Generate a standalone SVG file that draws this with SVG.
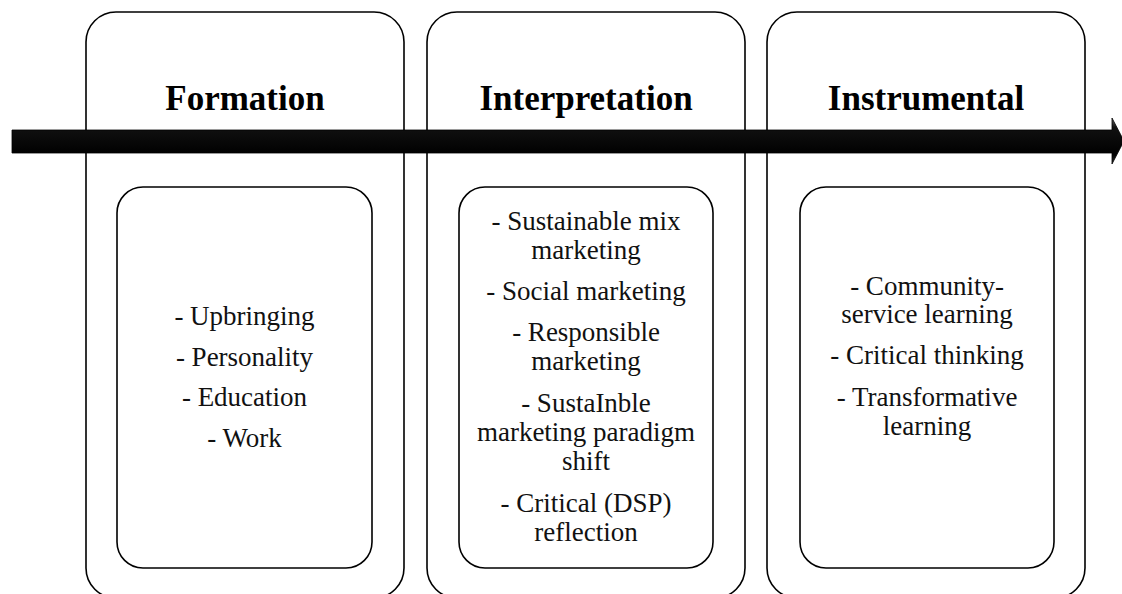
<svg xmlns="http://www.w3.org/2000/svg" width="1122" height="594" viewBox="0 0 1122 594">
<defs>
<linearGradient id="barGrad" x1="0" y1="0" x2="0" y2="1">
<stop offset="0" stop-color="#666"/>
<stop offset="0.2" stop-color="#111"/>
<stop offset="0.8" stop-color="#000"/>
<stop offset="1" stop-color="#333"/>
</linearGradient>
<style>
.outer{fill:#fff;stroke:#000;stroke-width:1.6}
.inner{fill:#fff;stroke:#000;stroke-width:1.6}
.title{font-weight:bold;font-size:35px;fill:#000;text-anchor:middle}
.item{font-size:27px;fill:#111;text-anchor:middle}
</style>
</defs>
<rect width="1122" height="594" fill="#fff"/>
<g id="formation">
<rect class="outer" x="86" y="12" width="318" height="586" rx="30" ry="30"/>
<text class="title" font-family="Liberation Serif, DejaVu Serif, serif" x="245" y="110">Formation</text>
</g>
<g id="interpretation">
<rect class="outer" x="427" y="12" width="318" height="586" rx="30" ry="30"/>
<text class="title" font-family="Liberation Serif, DejaVu Serif, serif" x="586" y="110">Interpretation</text>
</g>
<g id="instrumental">
<rect class="outer" x="767" y="12" width="318" height="586" rx="30" ry="30"/>
<text class="title" font-family="Liberation Serif, DejaVu Serif, serif" x="926" y="110">Instrumental</text>
</g>
<g id="connectors">
<path d="M12,130 L1112,130 L1112,118 L1124,141 L1112,164 L1112,153 L12,153 Z" fill="url(#barGrad)" stroke="#000" stroke-width="0.8"/>
</g>
<g id="formation-items" font-family="Liberation Serif, DejaVu Serif, serif">
<rect class="inner" x="117" y="187" width="255" height="381" rx="26" ry="26"/>
<text class="item" x="244.5" y="325">- Upbringing</text>
<text class="item" x="244.5" y="366">- Personality</text>
<text class="item" x="244.5" y="406">- Education</text>
<text class="item" x="244.5" y="447">- Work</text>
</g>
<g id="interpretation-items" font-family="Liberation Serif, DejaVu Serif, serif">
<rect class="inner" x="459" y="187" width="254" height="381" rx="26" ry="26"/>
<text class="item" x="586" y="230">- Sustainable mix</text>
<text class="item" x="586" y="259">marketing</text>
<text class="item" x="586" y="300">- Social marketing</text>
<text class="item" x="586" y="341">- Responsible</text>
<text class="item" x="586" y="370">marketing</text>
<text class="item" x="586" y="412">- SustaInble</text>
<text class="item" x="586" y="441">marketing paradigm</text>
<text class="item" x="586" y="470">shift</text>
<text class="item" x="586" y="512">- Critical (DSP)</text>
<text class="item" x="586" y="541">reflection</text>
</g>
<g id="instrumental-items" font-family="Liberation Serif, DejaVu Serif, serif">
<rect class="inner" x="800" y="187" width="254" height="381" rx="26" ry="26"/>
<text class="item" x="927" y="295">- Community-</text>
<text class="item" x="927" y="323">service learning</text>
<text class="item" x="927" y="364">- Critical thinking</text>
<text class="item" x="927" y="406">- Transformative</text>
<text class="item" x="927" y="435">learning</text>
</g>
</svg>
